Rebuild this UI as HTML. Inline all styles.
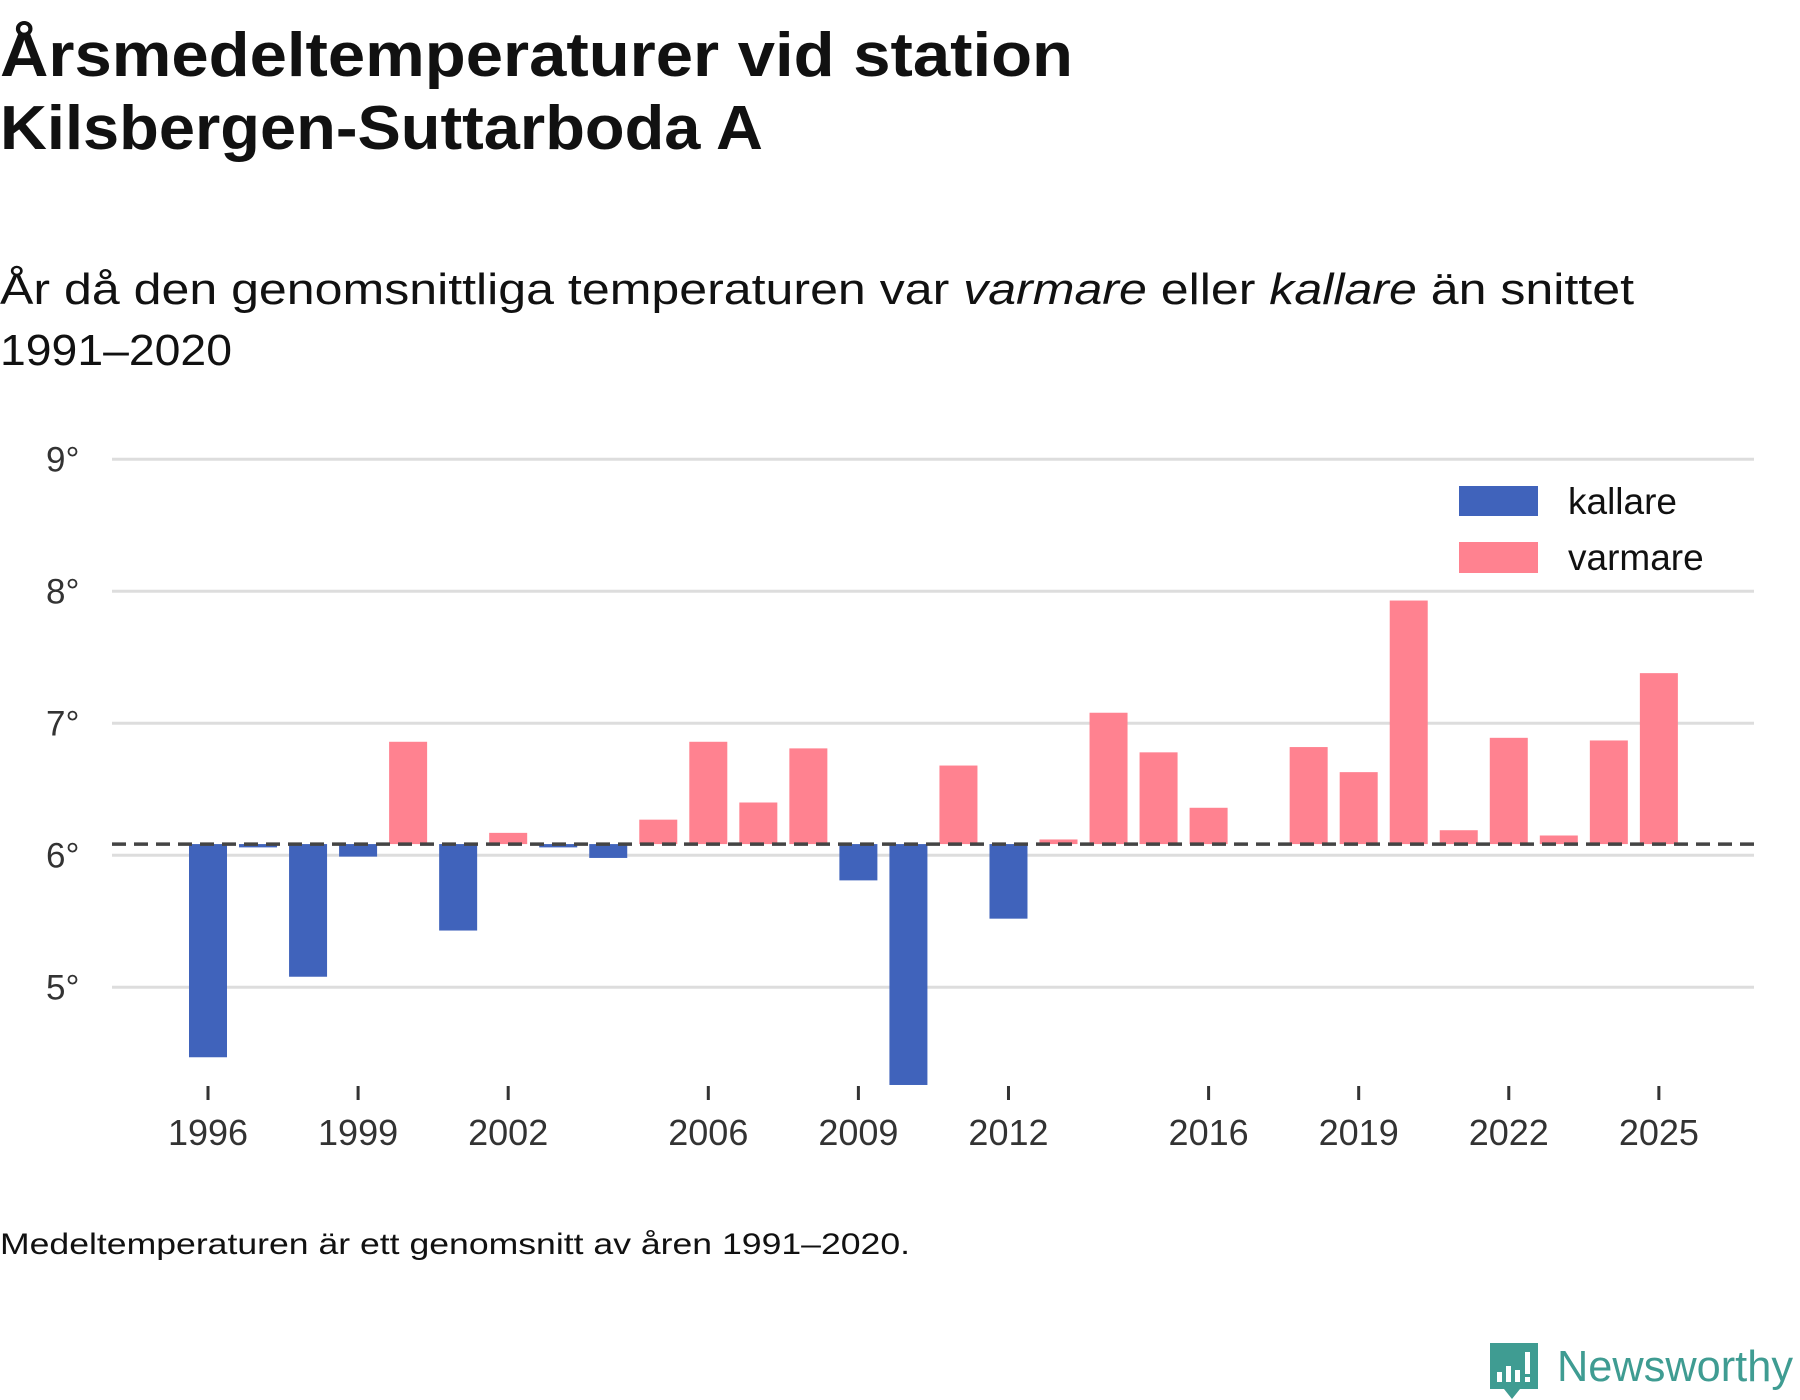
<!DOCTYPE html>
<html><head><meta charset="utf-8"><style>
html,body{margin:0;padding:0;background:#fff;}
svg{display:block;font-family:"Liberation Sans",sans-serif;}
</style></head><body>
<svg id="chart" width="1800" height="1400" viewBox="0 0 1800 1400">
<text x="0" y="76" font-size="62" font-weight="bold" fill="#111" textLength="1073" lengthAdjust="spacingAndGlyphs">Årsmedeltemperaturer vid station</text>
<text x="0" y="149" font-size="62" font-weight="bold" fill="#111" textLength="763" lengthAdjust="spacingAndGlyphs">Kilsbergen-Suttarboda A</text>
<text x="0" y="304" font-size="44" fill="#111" textLength="1634" lengthAdjust="spacingAndGlyphs">År då den genomsnittliga temperaturen var <tspan font-style="italic">varmare</tspan> eller <tspan font-style="italic">kallare</tspan> än snittet</text>
<text x="0" y="365" font-size="44" fill="#111" textLength="232" lengthAdjust="spacingAndGlyphs">1991–2020</text>
<g id="grid"></g>
<g id="ylabels"></g>
<g id="bars"></g>
<g id="xaxis"></g>
<line id="meanline" stroke="#444" stroke-width="3.5" stroke-dasharray="14,8"/>
<g>
<rect x="1447" y="474" width="283" height="115" fill="#fff"/>
<rect x="1459" y="486" width="79" height="30" fill="#4063bb"/>
<text x="1568" y="514" font-size="37" fill="#111">kallare</text>
<rect x="1459" y="542" width="79" height="31" fill="#ff8290"/>
<text x="1568" y="570" font-size="37" fill="#111">varmare</text>
</g>
<text x="0" y="1254" font-size="30" fill="#111" textLength="910" lengthAdjust="spacingAndGlyphs">Medeltemperaturen är ett genomsnitt av åren 1991–2020.</text>
<g>
<path d="M1490 1343 h48 v46 h-18 l-8 10 l-8 -10 h-14 z" fill="#3f9c92"/>
<rect x="1497" y="1372" width="5" height="10" fill="#fff"/><rect x="1506" y="1366" width="5" height="16" fill="#fff"/><rect x="1515" y="1370" width="5" height="12" fill="#fff"/><rect x="1525" y="1352" width="5" height="22" fill="#fff"/><rect x="1525" y="1377" width="5" height="5" fill="#fff"/>
<text x="1557" y="1381" font-size="44" fill="#3f9c92" textLength="236" lengthAdjust="spacingAndGlyphs">Newsworthy</text>
</g>
</svg>
<script>
const years = [1996,1997,1998,1999,2000,2001,2002,2003,2004,2005,2006,2007,2008,2009,2010,2011,2012,2013,2014,2015,2016,2017,2018,2019,2020,2021,2022,2023,2024,2025];
const temps = [4.47,6.06,5.08,5.99,6.86,5.43,6.17,6.06,5.98,6.27,6.86,6.40,6.81,5.81,4.26,6.68,5.52,6.12,7.08,6.78,6.36,null,6.82,6.63,7.93,6.19,6.89,6.15,6.87,7.38];
const meanTemp = 6.085;
const yTicks = [5,6,7,8,9];
const yTickLabels = ["5°","6°","7°","8°","9°"];
const xTickYears = [1996,1999,2002,2006,2009,2012,2016,2019,2022,2025];

const NS="http://www.w3.org/2000/svg";
const xScale = y => 208 + (y-1996)*50.03;
const yScale = v => 855.3 - (v-6)*132;
const barW = 38;
function mk(tag, attrs, parent){const e=document.createElementNS(NS,tag);for(const k in attrs)e.setAttribute(k,attrs[k]);parent.appendChild(e);return e;}
const grid=document.getElementById('grid'), yl=document.getElementById('ylabels'), bars=document.getElementById('bars'), xa=document.getElementById('xaxis');
yTicks.forEach((t,i)=>{
  const l=mk('line',{x1:112,x2:1754,y1:yScale(t),y2:yScale(t),stroke:'#ddd','stroke-width':3},grid);
  
  
  const tx=mk('text',{x:46,y:yScale(t)+12,'font-size':35,fill:'#333'},yl);
  tx.textContent=yTickLabels[i];
  
  
});
const by=yScale(meanTemp);
years.forEach((yr,i)=>{
  const v=temps[i]; if(v==null) return;
  const y=yScale(v); const top=Math.min(y,by), h=Math.max(Math.abs(by-y),1.5);
  const r=mk('rect',{x:xScale(yr)-barW/2,y:top,width:barW,height:h,fill:v<meanTemp?'#4063bb':'#ff8290'},bars);
  
  
});
xTickYears.forEach(yr=>{
  const l=mk('line',{x1:xScale(yr),x2:xScale(yr),y1:1086,y2:1100,stroke:'#333','stroke-width':3},xa);
  
  
  const t=mk('text',{x:xScale(yr),y:1145,'font-size':36,fill:'#333','text-anchor':'middle'},xa);
  t.textContent=yr;
  
  
});
const ml=document.getElementById('meanline');
ml.setAttribute('x1',112);ml.setAttribute('x2',1754);ml.setAttribute('y1',by);ml.setAttribute('y2',by);
</script>
</body></html>
